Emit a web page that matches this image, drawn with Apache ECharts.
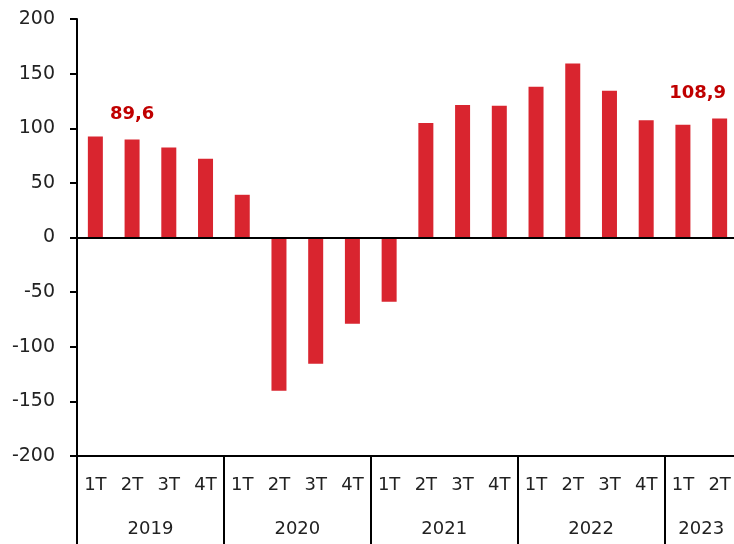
<!DOCTYPE html>
<html>
<head>
<meta charset="utf-8">
<script src="https://cdn.jsdelivr.net/npm/echarts@6/dist/echarts.min.js"></script>
<style>
  html, body { margin: 0; padding: 0; background: #fff; }
  #chart { width: 734px; height: 544px; }
</style>
</head>
<body>
<div id="chart"></div>
<script>
// 季度 / 年份
var quarters = ["1T", "2T", "3T", "4T", "1T", "2T", "3T", "4T", "1T", "2T", "3T", "4T", "1T", "2T", "3T", "4T", "1T", "2T"];
var yearLabels = ["", "", "2019", "", "", "", "2020", "", "", "", "2021", "", "", "", "2022", "", "", "2023", ""];
var yearBreaks = [0, 4, 8, 12, 16];
var values = [92.4, 89.6, 82.4, 72.0, 39.1, -140.3, -115.6, -79.0, -58.9, 104.9, 121.3, 120.7, 137.9, 159.3, 134.3, 107.4, 103.1, 108.9];
var labelled = [1, 17]; // 只标注这两个柱子

var font = "DejaVu Sans";
var myChart = echarts.init(document.getElementById("chart"));

var barData = values.map(function (v, i) {
  var item = { value: v };
  if (labelled.indexOf(i) >= 0) {
    item.label = {
      show: true,
      position: "top",
      distance: 16,
      formatter: function (p) { return String(p.value).replace(".", ","); },
      color: "#c00000",
      fontFamily: font,
      fontWeight: "bold",
      fontSize: 18,
      offset: i === 17 ? [-22, 0] : [0, 0]
    };
  }
  return item;
});

myChart.setOption({
  animation: false,
  grid: {
    left: 77,
    top: 19,
    width: 661,
    bottom: 88,
    outerBoundsMode: "none"
  },
  xAxis: [
    {
      type: "category",
      data: quarters,
      axisLine: { onZero: false, lineStyle: { color: "#000", width: 2 } },
      axisTick: { show: false },
      axisLabel: { interval: 0, margin: 20, color: "#222", fontFamily: font, fontSize: 18 }
    },
    {
      type: "category",
      data: yearLabels,
      boundaryGap: false,
      position: "bottom",
      axisLine: { show: false, onZero: false },
      axisTick: {
        show: true,
        length: 92,
        interval: function (idx) { return yearBreaks.indexOf(idx) >= 0; },
        lineStyle: { color: "#000", width: 2 }
      },
      axisLabel: { interval: 0, margin: 64, color: "#222", fontFamily: font, fontSize: 18 }
    }
  ],
  yAxis: {
    type: "value",
    min: -200,
    max: 200,
    interval: 50,
    axisLine: { show: true, lineStyle: { color: "#000", width: 2 } },
    axisTick: { show: true, length: 7, lineStyle: { color: "#000", width: 2 } },
    splitLine: { show: false },
    axisLabel: { margin: 22, color: "#222", fontFamily: font, fontSize: 19 }
  },
  series: [
    {
      type: "bar",
      data: barData,
      barWidth: 15,
      itemStyle: { color: "#d9252f" },
      markLine: {
        silent: true,
        symbol: "none",
        label: { show: false },
        lineStyle: { color: "#000", width: 2, type: "solid" },
        data: [{ yAxis: 0 }]
      }
    }
  ]
});
window.onresize = function () {
  myChart.resize();
};
</script>
</body>
</html>
